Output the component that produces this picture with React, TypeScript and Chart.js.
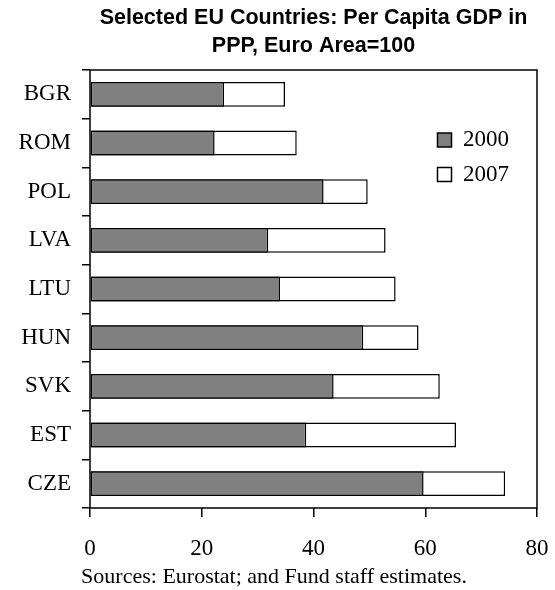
import React, { useEffect, useRef } from 'react';
import { Chart, registerables } from 'chart.js';

Chart.register(...registerables);

const countries = ['BGR', 'ROM', 'POL', 'LVA', 'LTU', 'HUN', 'SVK', 'EST', 'CZE'];
const gdp2000 = [24.0, 22.3, 41.8, 31.9, 34.0, 48.9, 43.6, 38.7, 59.7];
const gdp2007 = [34.9, 37.0, 49.7, 52.9, 54.7, 58.8, 62.6, 65.5, 74.3];
const seriesLabels = ['2000', '2007'];
const xTicks = [0, 20, 40, 60, 80];
const titleLines = ['Selected EU Countries: Per Capita GDP in', 'PPP, Euro Area=100'];
const sourceNote = 'Sources: Eurostat; and Fund staff estimates.';

const SERIF = "'Liberation Serif', 'Times New Roman', serif";
const SANS = "'Liberation Sans', Arial, sans-serif";

const framePlugin = {
  id: 'frame',
  afterDatasetsDraw(chart: any) {
    const { ctx, chartArea: a } = chart;
    ctx.save();
    ctx.strokeStyle = '#000';
    ctx.lineWidth = 1.5;
    ctx.strokeRect(a.left, a.top, a.right - a.left, a.bottom - a.top);
    ctx.restore();
  },
};

const legendPlacer = {
  id: 'legendPlacer',
  beforeDraw(chart: any) {
    const lg = chart.legend;
    if (!lg) return;
    const a = chart.chartArea;
    const pad = lg.options.labels.padding;
    const w = lg.width;
    const h = lg.height;
    lg.left = a.left + 347.5 - pad;
    lg.right = lg.left + w;
    lg.top = a.top + 58.5 - pad;
    lg.bottom = lg.top + h + 500;
  },
};

export default function App() {
  const ref = useRef<HTMLCanvasElement>(null);

  useEffect(() => {
    if (!ref.current) return;
    Chart.defaults.color = '#000';
    const chart = new Chart(ref.current, {
      type: 'bar',
      data: {
        labels: countries,
        datasets: [
          {
            label: seriesLabels[0],
            data: gdp2000,
            backgroundColor: '#808080',
            borderColor: '#000',
            borderWidth: 1.5,
            borderSkipped: false,
            grouped: false,
            barPercentage: 0.51,
            categoryPercentage: 1,
          } as any,
          {
            label: seriesLabels[1],
            data: gdp2007,
            backgroundColor: '#ffffff',
            borderColor: '#000',
            borderWidth: 1.5,
            borderSkipped: false,
            grouped: false,
            barPercentage: 0.51,
            categoryPercentage: 1,
          } as any,
        ],
      },
      options: {
        indexAxis: 'y',
        responsive: false,
        animation: false,
        layout: { padding: { left: 11, right: 18, top: 0, bottom: 0 } },
        scales: {
          x: {
            type: 'linear',
            min: 0,
            max: 80,
            afterBuildTicks: (scale: any) => {
              scale.ticks = xTicks.map((v) => ({ value: v }));
            },
            afterFit: (scale: any) => {
              scale.height = 55.6;
              scale.paddingLeft = 0;
              scale.paddingRight = 0;
            },
            ticks: {
              font: { family: SERIF, size: 23, lineHeight: 1.2 },
              color: '#000',
              padding: 18,
              maxRotation: 0,
            },
            grid: {
              drawOnChartArea: false,
              drawTicks: true,
              tickLength: 9,
              color: '#000',
              lineWidth: 1.5,
            },
            border: { display: false },
          },
          y: {
            type: 'category',
            afterFit: (scale: any) => {
              scale.width = 79;
              scale.paddingTop = 0;
              scale.paddingBottom = 0;
            },
            ticks: {
              font: { family: SERIF, size: 23, lineHeight: 1.2 },
              color: '#000',
              padding: 11,
            },
            grid: {
              drawOnChartArea: false,
              drawTicks: true,
              tickLength: 8,
              color: '#000',
              lineWidth: 1.5,
              offset: true,
            },
            border: { display: false },
          },
        },
        plugins: {
          title: {
            display: true,
            text: titleLines,
            fullSize: false,
            color: '#000',
            font: { family: SANS, size: 21.5, weight: 'bold', lineHeight: 1.3 },
            padding: { top: 4, bottom: 10.1 },
          },
          subtitle: {
            display: true,
            text: sourceNote,
            position: 'bottom',
            align: 'center',
            fullSize: true,
            color: '#000',
            font: { family: SERIF, size: 22, lineHeight: 1.2 },
            padding: { top: 0, bottom: 0 },
          },
          legend: {
            display: true,
            position: 'chartArea' as any,
            align: 'start',
            labels: {
              boxWidth: 14,
              boxHeight: 14,
              padding: 11.5,
              color: '#000',
              font: { family: SERIF, size: 23 },
            },
          },
          tooltip: { enabled: false },
        },
      },
      plugins: [framePlugin, legendPlacer],
    });
    return () => chart.destroy();
  }, []);

  return (
    <div style={{ position: 'absolute', left: 0, top: 0, width: 555, height: 590 }}>
      <canvas ref={ref} width={555} height={590} style={{ display: 'block' }} />
    </div>
  );
}
